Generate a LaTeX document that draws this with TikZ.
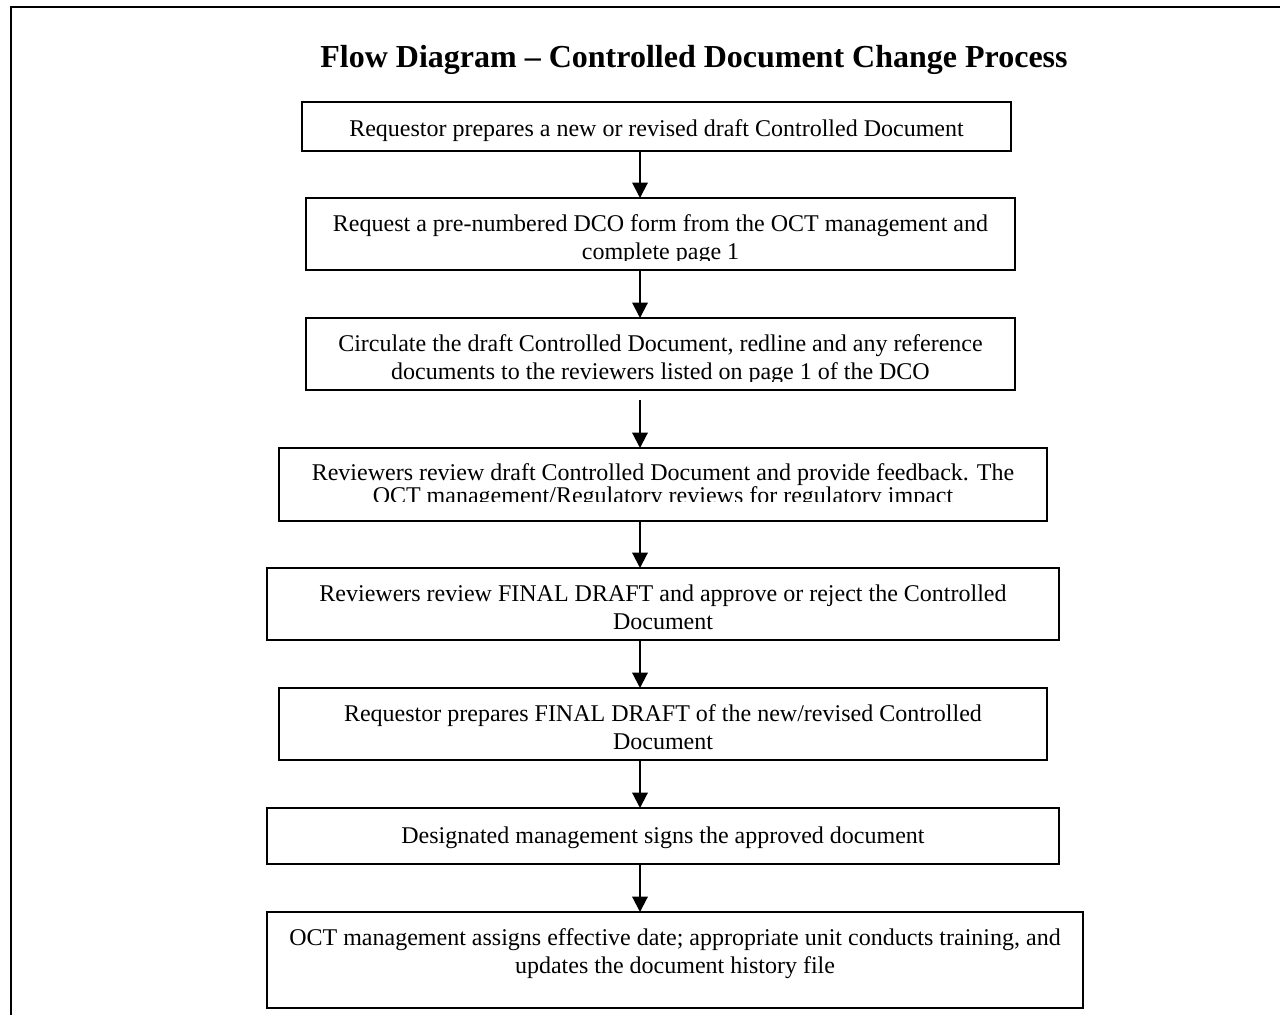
\documentclass[tikz,border=0pt]{standalone}
\usepackage{fontspec}
\setmainfont{Liberation Serif}
\usetikzlibrary{arrows.meta,calc}
\tikzset{
  procbox/.style={draw, line width=1.5pt, inner sep=0pt, outer sep=0pt, anchor=north west},
  flowarrow/.style={line width=1.5pt, -{Triangle[width=11.5pt,length=11.5pt]}},
  frameline/.style={line width=1.5pt},
  cutmask/.style={fill=white, draw=none},
  titlestyle/.style={font=\bfseries\fontsize{24pt}{28pt}\selectfont, anchor=base, inner sep=0pt}
}
% #1 height, #2 width, #3 baselineskip, #4 first-baseline offset, #5 text
\newcommand\bxtext[5]{\parbox[c][#1][t]{#2}{\centering\fontsize{18pt}{#3}\selectfont\rule{0pt}{#4}#5}}
\begin{document}
\begin{tikzpicture}[x=0.75pt,y=-0.75pt]
\useasboundingbox (0,0) rectangle (1280,1015);
% outer frame (partly visible)
\draw[frameline] (11,1015) -- (11,7) -- (1280,7);
% title
\node[titlestyle] (title) at (694,67) {Flow Diagram -- Controlled Document Change Process};
% boxes
\node[procbox] (b1) at (302,102) {\bxtext{36.75pt}{531.75pt}{21pt}{25.5pt}{Requestor prepares a new or revised draft Controlled Document}};
\node[procbox] (b2) at (306,198) {\bxtext{54pt}{531.75pt}{21pt}{25.1pt}{Request a pre-numbered DCO form from the OCT management and\\complete page 1}};
\node[procbox] (b3) at (306,318) {\bxtext{54pt}{531.75pt}{21pt}{25.1pt}{Circulate the draft Controlled Document, redline and any reference\\documents to the reviewers listed on page 1 of the DCO}};
\node[procbox] (b4) at (279,448) {\bxtext{54.75pt}{576pt}{15pt}{24pt}{Reviewers review draft Controlled Document and provide feedback. The\\OCT management/Regulatory reviews for regulatory impact}};
\node[procbox] (b5) at (267,568) {\bxtext{54pt}{594pt}{21pt}{25.1pt}{Reviewers review FINAL DRAFT and approve or reject the Controlled\\Document}};
\node[procbox] (b6) at (279,688) {\bxtext{54pt}{576pt}{21pt}{25.1pt}{Requestor prepares FINAL DRAFT of the new/revised Controlled\\Document}};
\node[procbox] (b7) at (267,808) {\bxtext{42pt}{594pt}{21pt}{26.25pt}{Designated management signs the approved document}};
\node[procbox] (b8) at (267,912) {\bxtext{72pt}{612pt}{21pt}{25.1pt}{OCT management assigns effective date; appropriate unit conducts training, and\\updates the document history file}};
% clipped text bottoms
\fill[cutmask] ($(b2.south west)+(1.5,-1.2)$) rectangle ($(b2.south east)+(-1.5,-9)$);
\fill[cutmask] ($(b3.south west)+(1.5,-1.2)$) rectangle ($(b3.south east)+(-1.5,-8.3)$);
\fill[cutmask] ($(b4.south west)+(1.5,-1.2)$) rectangle ($(b4.south east)+(-1.5,-19.5)$);
% connectors
\coordinate (ax) at (640,0);
\draw[flowarrow] (b1.south -| ax) -- (b2.north -| ax);
\draw[flowarrow] (b2.south -| ax) -- (b3.north -| ax);
\draw[flowarrow] ($(b3.south -| ax)+(0,10)$) -- (b4.north -| ax);
\draw[flowarrow] (b4.south -| ax) -- (b5.north -| ax);
\draw[flowarrow] (b5.south -| ax) -- (b6.north -| ax);
\draw[flowarrow] (b6.south -| ax) -- (b7.north -| ax);
\draw[flowarrow] (b7.south -| ax) -- (b8.north -| ax);
\end{tikzpicture}
\end{document}
